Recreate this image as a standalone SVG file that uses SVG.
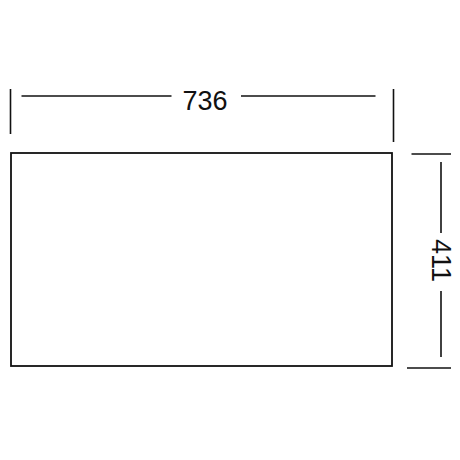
<svg xmlns="http://www.w3.org/2000/svg" width="460" height="460" viewBox="0 0 460 460">
<style>
.ln{stroke:#111;stroke-width:1.6;fill:none}
.lbl{font-family:"Liberation Sans",Arial,sans-serif;font-size:27px;fill:#111;text-anchor:middle}
</style>
<rect width="460" height="460" fill="#fff"/>
<g id="rectangle">
<rect x="11" y="153" width="381" height="213" fill="#fff" stroke="#111" stroke-width="1.8"/>
</g>
<g id="connectors">
<line class="ln" x1="10.5" y1="89" x2="10.5" y2="134"/>
<line class="ln" x1="393.5" y1="89" x2="393.5" y2="142"/>
<line class="ln" x1="21.5" y1="96" x2="171.5" y2="96"/>
<line class="ln" x1="241" y1="96" x2="375.5" y2="96"/>
<line class="ln" x1="411.5" y1="154" x2="451" y2="154"/>
<line class="ln" x1="407" y1="368" x2="451" y2="368"/>
<line class="ln" x1="441" y1="162" x2="441" y2="233"/>
<line class="ln" x1="441" y1="291" x2="441" y2="357"/>
</g>
<g id="width-label">
<text class="lbl" x="205" y="109.5">736</text>
</g>
<g id="height-label">
<text class="lbl" transform="translate(441,260.5) rotate(90)" x="0" y="9.5">411</text>
</g>
</svg>
